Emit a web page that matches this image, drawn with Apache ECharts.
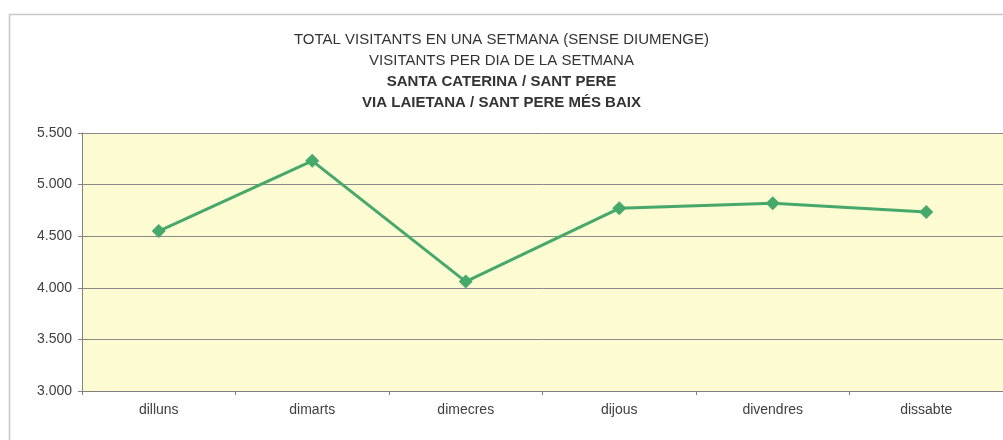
<!DOCTYPE html>
<html>
<head>
<meta charset="utf-8">
<script src="https://cdn.jsdelivr.net/npm/echarts@6/dist/echarts.min.js"></script>
<style>
  html, body { margin: 0; padding: 0; background: #fff; }
  #chart { width: 1003px; height: 440px; }
</style>
</head>
<body>
<div id="chart"></div>
<script>
// dies de la setmana (sense diumenge)
const days = ['dilluns', 'dimarts', 'dimecres', 'dijous', 'divendres', 'dissabte'];
const visitants = [4550, 5230, 4060, 4770, 4820, 4735];
const yMin = 3000;
const yMax = 5500;
const yStep = 500;

const chart = echarts.init(document.getElementById('chart'));

const fmt = (v) => String(v).replace(/\B(?=(\d{3})+(?!\d))/g, '.');

const option = {
  animation: false,
  backgroundColor: '#fff',
  graphic: [
    {
      type: 'rect',
      shape: { x: 9.5, y: 14.5, width: 1010, height: 440 },
      style: { fill: 'none', stroke: '#c8c8c8', lineWidth: 1.5 },
      z: -1,
    },
  ],
  title: {
    left: 'center',
    top: 24,
    itemGap: 0,
    text: [
      '{n|TOTAL VISITANTS EN UNA SETMANA (SENSE DIUMENGE)}',
      '{n|VISITANTS PER DIA DE LA SETMANA}',
      '{b|SANTA CATERINA / SANT PERE}',
      '{b|VIA LAIETANA / SANT PERE MÉS BAIX}',
    ].join('\n'),
    textStyle: {
      fontWeight: 'normal',
      rich: {
        n: { fontFamily: 'Liberation Sans, Arial', fontSize: 15, fontWeight: 'normal', color: '#333', lineHeight: 21 },
        b: { fontFamily: 'Liberation Sans, Arial', fontSize: 15, fontWeight: 'bold', color: '#333', lineHeight: 21 },
      },
    },
  },
  grid: {
    left: 82,
    top: 133,
    right: 0,
    height: 258,
    show: true,
    backgroundColor: '#fdfbd2',
    borderWidth: 0,
  },
  xAxis: {
    type: 'category',
    data: days,
    boundaryGap: true,
    axisLine: { lineStyle: { color: '#808080', width: 1 } },
    axisTick: { show: true, inside: false, length: 4, lineStyle: { color: '#808080' } },
    axisLabel: {
      color: '#404040',
      fontFamily: 'Liberation Sans, Arial',
      fontSize: 14,
      margin: 12,
    },
  },
  yAxis: {
    type: 'value',
    min: yMin,
    max: yMax,
    interval: yStep,
    axisLine: { show: true, lineStyle: { color: '#808080', width: 1 } },
    axisTick: { show: true, inside: false, length: 4, lineStyle: { color: '#808080' } },
    axisLabel: {
      color: '#404040',
      fontFamily: 'Liberation Sans, Arial',
      fontSize: 14,
      margin: 10,
      formatter: (v) => fmt(v),
    },
    splitLine: {
      show: true,
      lineStyle: { color: '#8a8a8a', width: 1 },
    },
  },
  series: [
    {
      name: 'visitants',
      type: 'line',
      data: visitants,
      symbol: 'diamond',
      symbolSize: 14,
      lineStyle: { color: '#46a86a', width: 3 },
      itemStyle: { color: '#46a86a' },
    },
  ],
};

chart.setOption(option);
</script>
</body>
</html>
